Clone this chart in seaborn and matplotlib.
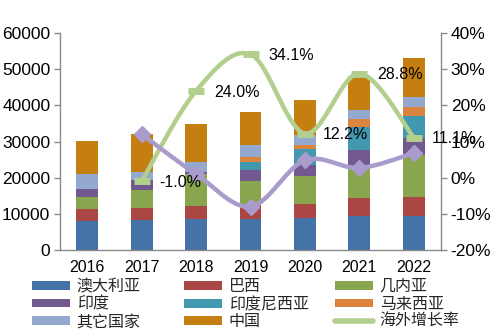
import numpy as np
import pandas as pd
import matplotlib
matplotlib.use("Agg")
import matplotlib.pyplot as plt
import seaborn as sns
from matplotlib.patches import Patch
from matplotlib.lines import Line2D

years = ["2016", "2017", "2018", "2019", "2020", "2021", "2022"]
australia = [8100, 8300, 8480, 8480, 8930, 9490, 9490]
brazil = [3320, 3300, 3770, 3690, 3790, 4810, 5080]
guinea = [3150, 5000, 8700, 6990, 7740, 8290, 11700]
india = [2400, 2770, 600, 2960, 3040, 5060, 4610]
indonesia = [0, 0, 0, 2130, 4340, 6440, 6170]
malaysia = [0, 0, 0, 1380, 1190, 2050, 2570]
others = [3980, 2300, 2760, 3400, 2770, 2570, 2600]
china = [9100, 10350, 10600, 9210, 9680, 9500, 10780]

line_years = ["2017", "2018", "2019", "2020", "2021", "2022"]
overseas_growth = [-1.0, 24.0, 34.1, 12.2, 28.8, 11.1]
purple_growth = [12.0, 1.0, -8.0, 4.8, 2.7, 6.8]

series_names = ["澳大利亚", "巴西", "几内亚", "印度", "印度尼西亚", "马来西亚", "其它国家", "中国"]
series_vals = [australia, brazil, guinea, india, indonesia, malaysia, others, china]
colors = ["#4572A7", "#AA4643", "#89A54E", "#71588F", "#4198AF", "#DB843D", "#93A9CF", "#C47F10"]
green_c = "#B2CF8E"
purple_c = "#A99BCB"

sns.set_theme(style="white")
plt.rcParams["font.family"] = ["Liberation Sans", "Noto Sans CJK SC", "DejaVu Sans"]
plt.rcParams["axes.unicode_minus"] = False

fig = plt.figure(figsize=(4.92, 3.31), dpi=100)
ax = fig.add_axes([60/492, 1-250/331, (441-60)/492, (250-33)/331])

df = pd.DataFrame({n: v for n, v in zip(series_names, series_vals)}, index=years)
cum = df.cumsum(axis=1)
for name, col in reversed(list(zip(series_names, colors))):
    d = pd.DataFrame({"year": years, "val": cum[name].values})
    sns.barplot(data=d, x="year", y="val", color=col, saturation=1, width=0.4,
                ax=ax, order=years, errorbar=None, edgecolor="none", linewidth=0)

ax.set_ylim(0, 60000)
ax.set_xlim(-0.5, 6.5)
ax.set_yticks(np.arange(0, 60001, 10000))
ax.set_xlabel("")
ax.set_ylabel("")
ax.tick_params(axis="x", which="major", length=0, labelsize=11.5, pad=7, colors="black")
ax.set_xticks(np.arange(-0.5, 7, 1), minor=True)
ax.tick_params(axis="x", which="minor", length=5, width=1, color="#8a8a8a", direction="out")
ax.tick_params(axis="y", length=4, width=1, color="#8a8a8a", direction="out", labelsize=12.5, pad=3, labelcolor="black")
for s in ["top", "right"]:
    ax.spines[s].set_visible(False)
for s in ["left", "bottom"]:
    ax.spines[s].set_color("#8a8a8a")
    ax.spines[s].set_linewidth(1)

ax2 = ax.twinx()
ax2.set_ylim(-20, 40)
ax2.set_yticks(np.arange(-20, 41, 10))
ax2.set_yticklabels([f"{v}%" for v in range(-20, 41, 10)])
ax2.tick_params(axis="y", length=4, width=1, color="#8a8a8a", direction="out", labelsize=12.5, pad=3, labelcolor="black")
for s in ["top", "left", "bottom"]:
    ax2.spines[s].set_visible(False)
ax2.spines["right"].set_color("#8a8a8a")
ax2.spines["right"].set_linewidth(1)
ax2.grid(False)
ax.grid(False)

def smooth(xs, ys, n=30):
    xs = np.asarray(xs, float); ys = np.asarray(ys, float)
    P = np.column_stack([xs, ys])
    P = np.vstack([P[0], P, P[-1]])
    out = []
    for i in range(1, len(P) - 2):
        p0, p1, p2, p3 = P[i-1], P[i], P[i+1], P[i+2]
        t = np.linspace(0, 1, n)[:, None]
        seg = 0.5 * ((2*p1) + (-p0 + p2)*t + (2*p0 - 5*p1 + 4*p2 - p3)*t**2 + (-p0 + 3*p1 - 3*p2 + p3)*t**3)
        out.append(seg)
    out = np.vstack(out)
    return out[:, 0], out[:, 1]

lx = [years.index(y) for y in line_years]
gx, gy = smooth(lx, overseas_growth)
ax2.plot(gx, gy, color=green_c, lw=3.2, solid_capstyle="round", zorder=3)
ax2.plot(lx, overseas_growth, ls="none", marker="_", ms=12, mew=5, color=green_c, zorder=3)
px, py = smooth(lx, purple_growth)
ax2.plot(px, py, color=purple_c, lw=3.2, solid_capstyle="round", zorder=4)
ax2.plot(lx, purple_growth, ls="none", marker="D", ms=8, color=purple_c, zorder=4)

for x, v in zip(lx, overseas_growth):
    ax2.annotate(f"{v:.1f}%", (x, v), xytext=(13, -1), textcoords="offset points",
                 ha="left", va="center", fontsize=11.5, color="black", zorder=5)

cols = [
    [("澳大利亚", colors[0], "p"), ("印度", colors[3], "p"), ("其它国家", colors[6], "p")],
    [("巴西", colors[1], "p"), ("印度尼西亚", colors[4], "p"), ("中国", colors[7], "p")],
    [("几内亚", colors[2], "p"), ("马来西亚", colors[5], "p"), ("海外增长率", green_c, "l")],
]
xs_leg = [32/492, 184/492, 335/492]
for xl, col in zip(xs_leg, cols):
    handles = []
    for lab, c, kind in col:
        if kind == "p":
            handles.append(Patch(facecolor=c, edgecolor="none", label=lab))
        else:
            handles.append(Line2D([0], [0], color=c, lw=4, label=lab))
    fig.legend(handles=handles, loc="upper left", bbox_to_anchor=(xl, 1-279/331),
               frameon=False, fontsize=11.5, handlelength=2.4, handleheight=0.45,
               handletextpad=0.4, labelspacing=0.16, borderpad=0, borderaxespad=0)

fig.savefig("out.png", dpi=100)
